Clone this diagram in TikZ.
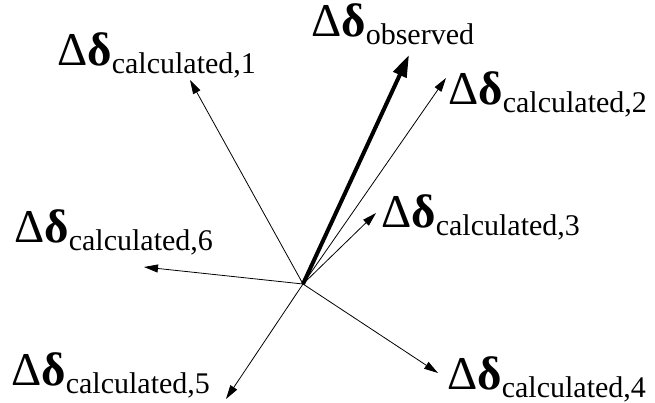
\documentclass[tikz,border=0pt]{standalone}
\usepackage{fontspec}
\setmainfont{Liberation Serif}
\usetikzlibrary{arrows.meta}
\newcommand{\dlab}[1]{\fontsize{47}{47}\selectfont Δ{\bfseries δ}\raisebox{-8pt}{\fontsize{30}{30}\selectfont #1}}

\begin{document}
\begin{tikzpicture}[x=1pt, y=-1pt,
    vec/.style={line width=0.8pt, -{Triangle[length=14pt, width=8pt]}},
    obsvec/.style={line width=4pt, -{Triangle[length=22pt, width=14pt]}},
    lab/.style={anchor=base west, inner sep=0pt}]
    \useasboundingbox (0,0) rectangle (655,403);

    % 1. 公共起点与箭头端点
    \coordinate (O) at (303,284);
    \coordinate (obs) at (409,55);
    \coordinate (c1) at (190,80);
    \coordinate (c2) at (446,78);
    \coordinate (c3) at (376,213);
    \coordinate (c4) at (438,373);
    \coordinate (c5) at (226,399);
    \coordinate (c6) at (144,267);

    % 2. 计算向量与观测向量
    \foreach \t in {c1,c2,c3,c4,c5,c6}
        \draw[vec] (O) -- (\t);
    \draw[obsvec] (O) -- (obs);

    % 3. 标签
    \node[lab] (Lobs) at (311,37) {\dlab{observed}};
    \node[lab] (L1) at (57,66) {\dlab{calculated,1}};
    \node[lab] (L2) at (448,105) {\dlab{calculated,2}};
    \node[lab] (L3) at (381,228) {\dlab{calculated,3}};
    \node[lab] (L4) at (447,389) {\dlab{calculated,4}};
    \node[lab] (L5) at (11,385) {\dlab{calculated,5}};
    \node[lab] (L6) at (14,243) {\dlab{calculated,6}};
\end{tikzpicture}
\end{document}
